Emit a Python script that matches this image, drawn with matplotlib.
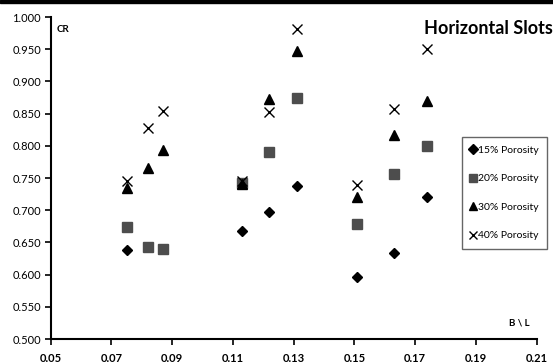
import matplotlib.pyplot as plt
from matplotlib.patches import Rectangle

plt.rcParams['font.family'] = ['Lato', 'DejaVu Sans']

# B/L values per series
x15 = [0.075, 0.113, 0.122, 0.131, 0.151, 0.163, 0.174]
cr15 = [0.639, 0.668, 0.698, 0.738, 0.596, 0.634, 0.721]

x20 = [0.075, 0.082, 0.087, 0.113, 0.122, 0.131, 0.151, 0.163, 0.174]
cr20 = [0.674, 0.643, 0.640, 0.743, 0.791, 0.875, 0.679, 0.757, 0.800]

x30 = [0.075, 0.082, 0.087, 0.113, 0.122, 0.131, 0.151, 0.163, 0.174]
cr30 = [0.734, 0.765, 0.793, 0.741, 0.873, 0.948, 0.721, 0.817, 0.870]

x40 = [0.075, 0.082, 0.087, 0.113, 0.122, 0.131, 0.151, 0.163, 0.174]
cr40 = [0.746, 0.828, 0.854, 0.745, 0.853, 0.982, 0.739, 0.858, 0.951]

xticks = [0.05, 0.07, 0.09, 0.11, 0.13, 0.15, 0.17, 0.19, 0.21]
yticks = [0.500, 0.550, 0.600, 0.650, 0.700, 0.750, 0.800, 0.850, 0.900, 0.950, 1.000]


def main():
    fig = plt.figure(figsize=(5.53, 3.63), dpi=100)
    ax = fig.add_axes([0.0917, 0.066, 0.8788, 0.887])

    ax.plot(x15, cr15, 'D', color='black', ms=5.5, ls='none', label='15% Porosity')
    ax.plot(x20, cr20, 's', color='#4d4d4d', ms=6.5, ls='none', label='20% Porosity')
    ax.plot(x30, cr30, '^', color='black', ms=7, ls='none', label='30% Porosity')
    ax.plot(x40, cr40, 'x', color='black', ms=7, mew=1, ls='none', label='40% Porosity')

    ax.set_xlim(0.05, 0.21)
    ax.set_ylim(0.5, 1.0)
    ax.set_xticks(xticks)
    ax.set_xticklabels(['%.2f' % v for v in xticks], fontsize=8, fontweight='bold')
    ax.set_yticks(yticks)
    ax.set_yticklabels(['%.3f' % v for v in yticks], fontsize=8)
    ax.tick_params(direction='out', length=4, width=1.2, color='black', pad=3)
    ax.tick_params(axis='x', pad=6)

    for s in ['top', 'right']:
        ax.spines[s].set_visible(False)
    for s in ['left', 'bottom']:
        ax.spines[s].set_linewidth(1.5)

    ax.text(0.013, 0.975, 'CR', transform=ax.transAxes, fontsize=7,
            fontweight='bold', va='top', ha='left')
    ax.text(0.985, 0.035, 'B \\ L', transform=ax.transAxes, fontsize=7,
            fontweight='bold', va='bottom', ha='right')
    fig.text(0.999, 0.905, 'Horizontal Slots', fontsize=13, fontweight='bold',
             ha='right', va='baseline')

    leg = ax.legend(loc='upper left', bbox_to_anchor=(0.846, 0.627), fontsize=7.5,
                    frameon=True, fancybox=False, labelspacing=1.85,
                    handlelength=0.5, handletextpad=0.25, borderpad=0.8,
                    borderaxespad=0, markerscale=0.85)
    leg.get_frame().set_edgecolor('#404040')
    leg.get_frame().set_linewidth(1.0)

    # dark strip along the top edge
    fig.add_artist(Rectangle((0, 0.992), 1, 0.008, transform=fig.transFigure,
                             color='black', zorder=10))

    fig.savefig('out.png', dpi=100)


if __name__ == '__main__':
    main()
